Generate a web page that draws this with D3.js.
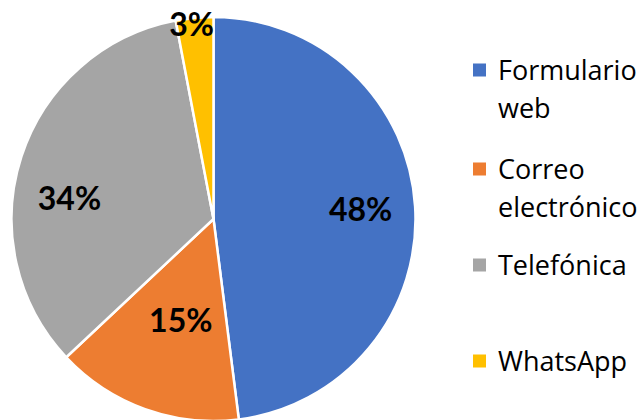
<!DOCTYPE html>
<html>
<head>
<meta charset="utf-8">
<script src="https://cdn.jsdelivr.net/npm/d3@7"></script>
<style>
  body { margin: 0; background: #fff; }
  text { font-family: Lato, "Open Sans", sans-serif; }
</style>
</head>
<body>
<svg width="643" height="420"></svg>
<script>
var categories = ["Formulario web", "Correo electrónico", "Telefónica", "WhatsApp"];
var values = [48, 15, 34, 3];
var labels = ["48%", "15%", "34%", "3%"];
var legendLines = [["Formulario", "web"], ["Correo", "electrónico"], ["Telefónica"], ["WhatsApp"]];
var colors = ["#4472c4", "#ed7d31", "#a5a5a5", "#ffc000"];

var data = categories.map(function(c, i) { return {name: c, value: values[i], label: labels[i]}; });

var svg = d3.select("svg"),
    cx = 213.5, cy = 219,
    radius = 202;

var pie = d3.pie()
    .sort(null)
    .value(function(d) { return d.value; });

var arc = d3.arc().innerRadius(0).outerRadius(radius);

var color = d3.scaleOrdinal().domain(categories).range(colors);

var g = svg.append("g")
    .attr("transform", "translate(" + cx + "," + cy + ")");

var arcs = pie(data);

g.selectAll("path")
  .data(arcs)
  .enter().append("path")
    .attr("d", arc)
    .attr("fill", function(d) { return color(d.data.name); })
    .attr("stroke", "#fff")
    .attr("stroke-width", 2.5);

// label placement: fraction of radius and a small angle nudge (degrees)
var labelR = [0.73, 0.53, 0.72, 0.97];
var labelNudge = [0, -2, -10, -1];
g.selectAll("text.lbl")
  .data(arcs)
  .enter().append("text")
    .attr("class", "lbl")
    .attr("transform", function(d, i) {
      var a = (d.startAngle + d.endAngle) / 2 + labelNudge[i] * Math.PI / 180,
          r = radius * labelR[i];
      return "translate(" + (Math.sin(a) * r) + "," + (-Math.cos(a) * r) + ")";
    })
    .attr("text-anchor", "middle")
    .attr("dy", "0.36em")
    .attr("font-size", 32)
    .attr("font-weight", "bold")
    .attr("fill", "#000")
    .text(function(d) { return d.data.label; });

var legendY = d3.scaleOrdinal().domain(categories).range([70, 169, 265, 361]);

var legend = svg.append("g")
  .selectAll("g")
  .data(categories)
  .enter().append("g")
    .attr("transform", function(d) { return "translate(473," + legendY(d) + ")"; });

legend.append("rect")
    .attr("x", 0).attr("y", -6.5)
    .attr("width", 13).attr("height", 13)
    .attr("fill", function(d) { return color(d); });

legend.append("text")
    .attr("x", 25)
    .attr("font-size", 27)
    .style("font-family", "'Open Sans', sans-serif")
    .attr("fill", "#000")
  .selectAll("tspan")
  .data(function(d, i) { return legendLines[i]; })
  .enter().append("tspan")
    .attr("x", 25)
    .attr("y", function(d, i) { return 10 + i * 38; })
    .text(function(d) { return d; });
</script>
</body>
</html>
